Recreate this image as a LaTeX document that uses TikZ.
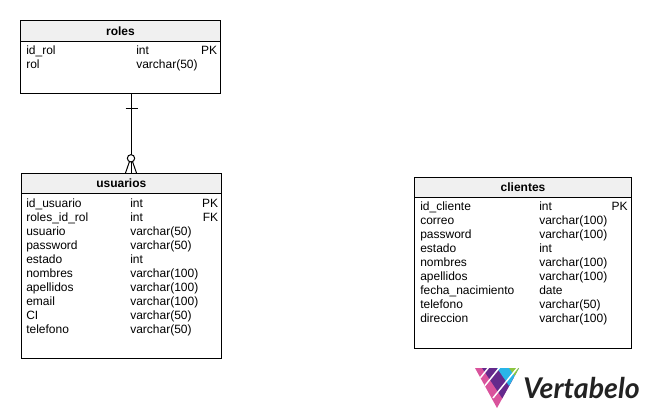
\documentclass[tikz,border=0pt]{standalone}
\usepackage{fontspec}
\setmainfont{Liberation Sans}
\newfontfamily\logofont{Lato}
\definecolor{headfill}{HTML}{F0F0F0}
\definecolor{logopink}{HTML}{D9539C}
\definecolor{logopurple}{HTML}{642A8C}
\definecolor{logoblue}{HTML}{29B5E8}
\definecolor{logogreen}{HTML}{8CC63F}
\definecolor{logodark}{HTML}{222222}
\tikzset{
  x=0.75pt,y=-0.75pt,
  tablebox/.style={draw=black,line width=0.75pt},
  headbar/.style={fill=headfill,minimum height=15pt,inner sep=0pt,anchor=north west,font=\fontsize{9pt}{9pt}\selectfont\bfseries},
  cell/.style={inner sep=0pt,anchor=base west,font=\fontsize{9pt}{9pt}\selectfont},
  cellr/.style={inner sep=0pt,anchor=base east,font=\fontsize{9pt}{9pt}\selectfont},
  relline/.style={draw=black,line width=0.75pt},
  logocut/.style={draw=white,line width=1.1pt},
}
\begin{document}
\begin{tikzpicture}
\useasboundingbox (0,0) rectangle (650,418);
% roles
\node[headbar,minimum width=149.6pt] (rolesH) at (20.5,20.5) {roles};
\draw[relline] (rolesH.south west) -- (rolesH.south east);
\path[tablebox] (20.5,20.5) rectangle (220,93);
\coordinate (rolesB) at (131,93);
\foreach \i/\a/\b/\c in {1/id\_rol/int/PK,2/rol/varchar(50)/}{
  \node[cell] (rn\i) at (26,40.3+14*\i) {\a};
  \node[cell] (rt\i) at (136,40.3+14*\i) {\b};
  \node[cellr] (rk\i) at (217.5,40.3+14*\i) {\c};
}
% usuarios
\node[headbar,minimum width=150pt] (usuH) at (21,173) {usuarios};
\draw[relline] (usuH.south west) -- (usuH.south east);
\path[tablebox] (21,173) rectangle (221,358);
\coordinate (usuT) at (131,173);
\foreach \i/\a/\b/\c in {1/id\_usuario/int/PK,2/roles\_id\_rol/int/FK,3/usuario/varchar(50)/,4/password/varchar(50)/,5/estado/int/,6/nombres/varchar(100)/,7/apellidos/varchar(100)/,8/email/varchar(100)/,9/CI/varchar(50)/,10/telefono/varchar(50)/}{
  \node[cell] (un\i) at (26,193.3+14*\i) {\a};
  \node[cell] (ut\i) at (130,193.3+14*\i) {\b};
  \node[cellr] (uk\i) at (218.5,193.3+14*\i) {\c};
}
% clientes
\node[headbar,minimum width=162.4pt] (cliH) at (414.5,177) {clientes};
\draw[relline] (cliH.south west) -- (cliH.south east);
\path[tablebox] (414.5,177) rectangle (631,348);
\foreach \i/\a/\b/\c in {1/id\_cliente/int/PK,2/correo/varchar(100)/,3/password/varchar(100)/,4/estado/int/,5/nombres/varchar(100)/,6/apellidos/varchar(100)/,7/fecha\_nacimiento/date/,8/telefono/varchar(50)/,9/direccion/varchar(100)/}{
  \node[cell] (cn\i) at (420,196.3+14*\i) {\a};
  \node[cell] (ct\i) at (539,196.3+14*\i) {\b};
  \node[cellr] (ck\i) at (628,196.3+14*\i) {\c};
}
% relationship
\draw[relline] (rolesB) -- (usuT);
\draw[relline] (125.5,108) -- (137.5,108);
\node[circle,draw=black,line width=0.75pt,fill=white,minimum size=5.5pt,inner sep=0pt] (crow) at (131,158.3) {};
\draw[relline] (129.5,161.5) -- (125.5,173);
\draw[relline] (132.5,161.5) -- (136.5,173);
% logo
\begin{scope}
\clip (475,368) -- (519,368) -- (497,408) -- cycle;
\fill[logopink] (470,360) rectangle (525,410);
\fill[logopurple] (482,368) -- (510,368) -- (530,410) -- (510,410) -- cycle;
\fill[logoblue] (497,368) -- (525,368) -- (525,410) -- (524,408) -- cycle;
\fill[logogreen] (509,368) -- (525,368) -- (525,390) -- cycle;
\draw[logocut] (479,379.5) -- (489,367);
\draw[logocut] (483,388) -- (500,367);
\draw[logocut] (493,398) -- (518,367);
\end{scope}
\node[inner sep=0pt,anchor=base west,text=logodark,font=\logofont\fontsize{21.4pt}{21.4pt}\selectfont\bfseries\itshape] (logo) at (523,398) {Vertabelo};
\end{tikzpicture}
\end{document}
